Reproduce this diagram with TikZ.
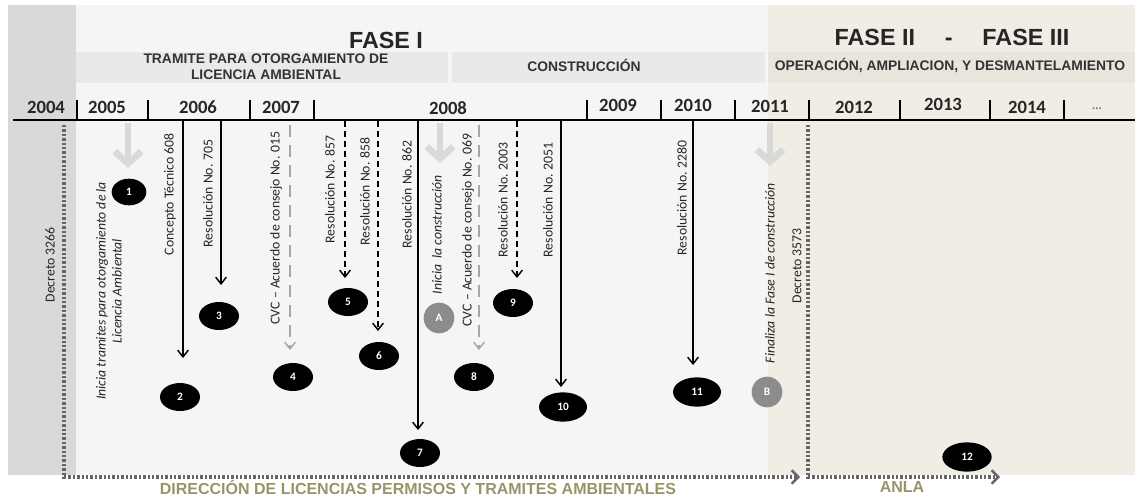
\documentclass[tikz,border=0pt]{standalone}
\usepackage{fontspec}
\setmainfont{Carlito}
\newfontfamily\headfont{Liberation Sans}
\usepackage{xcolor}
\usepackage{tikz}
\usetikzlibrary{arrows.meta,positioning,shapes.geometric}

\definecolor{panelgray}{HTML}{D9D9D9}
\definecolor{panellight}{HTML}{F5F5F5}
\definecolor{panelbeige}{HTML}{F0EDE5}
\definecolor{bandgray}{HTML}{E9E9E9}
\definecolor{bandbeige}{HTML}{E8E5DB}
\definecolor{olive}{HTML}{999368}

\begin{document}
\begin{tikzpicture}[
  x=0.75pt, y=-0.75pt,
  evt/.style={ellipse, fill=black, text=white, font=\bfseries\fontsize{8.5}{8.5}\selectfont,
              minimum width=30pt, minimum height=21pt, inner sep=0pt},
  hito/.style={circle, fill=black!45, text=white, font=\bfseries\fontsize{8.5}{8.5}\selectfont,
               minimum size=23pt, inner sep=0pt},
  lbl/.style={rotate=90, anchor=east, inner sep=0pt, text=black!85,
              font=\fontsize{10.3}{12}\selectfont},
  ilbl/.style={lbl, font=\itshape\fontsize{10.3}{12}\selectfont},
  yr/.style={font=\bfseries\fontsize{14}{14}\selectfont, text=black!85},
  head/.style={font=\headfont\bfseries\fontsize{17.5}{18}\selectfont, text=black!85},
  sub/.style={font=\headfont\bfseries\fontsize{10.4}{12}\selectfont, text=black!80, align=center},
  foot/.style={font=\headfont\bfseries\fontsize{12}{13}\selectfont, text=olive, inner sep=0pt},
  arr/.style={-{Straight Barb[length=5pt,width=8pt]}, line width=1.1pt},
  darr/.style={arr, dash pattern=on 4.5pt off 3pt},
  garr/.style={arr, draw=black!35, dash pattern=on 9pt off 6pt},
  fat/.style={-{Straight Barb[length=9pt,width=20pt]}, line width=5pt, draw=black!15},
  dots/.style={draw=black!60, line width=2.5pt, dash pattern=on 1.8pt off 1.5pt,
               -{Straight Barb[length=5pt,width=10pt,line width=1.8pt]}},
  tickline/.style={line width=2pt}
]
\useasboundingbox (0,0) rectangle (1135,497);

% panels and bands
\fill[panelgray] (8,5) rectangle (76,475);
\fill[panellight] (76,5) rectangle (768,475);
\fill[panelbeige] (768,5) rectangle (1135,475);
\fill[bandgray] (76,52) rectangle (448,83);
\fill[bandgray] (452,52) rectangle (765,83);
\fill[bandbeige] (768,52) rectangle (1135,83);

% headers
\node[head] (f1) at (386,40) {FASE I};
\node[head] (f2) at (952,37) {FASE II \quad - \quad FASE III};
\node[sub] (tram) at (266,67) {TRAMITE PARA OTORGAMIENTO DE\\LICENCIA AMBIENTAL};
\node[sub] (cons) at (584,65) {CONSTRUCCIÓN};
\node[sub] (oper) at (950,65) {OPERACIÓN, AMPLIACION, Y DESMANTELAMIENTO};

% time axis
\draw[line width=2.2pt] (13,120) -- (1135,120);
\draw[tickline] (77,100) -- (77,120);
\draw[tickline] (148,100) -- (148,120);
\draw[tickline] (250,100) -- (250,120);
\draw[tickline] (314,100) -- (314,120);
\draw[tickline] (587,100) -- (587,120);
\draw[tickline] (661,100) -- (661,120);
\draw[tickline] (735,100) -- (735,120);
\draw[tickline] (809,100) -- (809,120);
\draw[tickline] (900,100) -- (900,120);
\draw[tickline] (990,100) -- (990,120);
\draw[tickline] (1064,100) -- (1064,120);

\node[yr] (y04) at (46,107) {2004};
\node[yr] (y05) at (107,107) {2005};
\node[yr] (y06) at (198,107) {2006};
\node[yr] (y07) at (281,107) {2007};
\node[yr] (y08) at (448,108) {2008};
\node[yr] (y09) at (618,105) {2009};
\node[yr] (y10) at (693,105) {2010};
\node[yr] (y11) at (770,106) {2011};
\node[yr] (y12) at (854,107) {2012};
\node[yr] (y13) at (943,104) {2013};
\node[yr] (y14) at (1027,107) {2014};
\node[yr, font=\bfseries\fontsize{9}{9}\selectfont, text=black!60] (ydots) at (1097,109) {...};

% events
\node[evt, minimum width=26pt, minimum height=20pt] (ev1) at (129,192) {1};
\node[evt] (ev2) at (180,397) {2};
\node[evt] (ev3) at (219,316) {3};
\node[evt] (ev4) at (293,377) {4};
\node[evt] (ev5) at (348,302) {5};
\node[evt] (ev6) at (379,356) {6};
\node[evt] (ev7) at (420,453) {7};
\node[evt] (ev8) at (474,377) {8};
\node[evt] (ev9) at (513,303) {9};
\node[evt, minimum width=36pt, minimum height=22pt] (ev10) at (563,407) {10};
\node[evt, minimum width=36pt, minimum height=22pt] (ev11) at (697,392) {11};
\node[evt, minimum width=37pt, minimum height=22pt] (ev12) at (967,457) {12};
\node[hito] (hA) at (439,318) {A};
\node[hito] (hB) at (767,392) {B};

\coordinate (s1) at (128,123);  \coordinate (e1) at (128,168);
\coordinate (s2) at (183,121);  \coordinate (e2) at (183,358);
\coordinate (s3) at (221,121);  \coordinate (e3) at (221,285);
\coordinate (s4) at (290,125);  \coordinate (e4) at (290,350);
\coordinate (s5) at (345,121);  \coordinate (e5) at (345,278);
\coordinate (s6) at (378,121);  \coordinate (e6) at (378,331);
\coordinate (s7) at (418,121);  \coordinate (e7) at (418,430);
\coordinate (sA) at (440,123);  \coordinate (eA) at (440,163);
\coordinate (s8) at (479,125);  \coordinate (e8) at (479,350);
\coordinate (s9) at (517,121);  \coordinate (e9) at (517,278);
\coordinate (s10) at (561,121); \coordinate (e10) at (561,387);
\coordinate (s11) at (693,121); \coordinate (e11) at (693,365);
\coordinate (sB) at (770,123);  \coordinate (eB) at (770,166);

\draw[fat] (s1) -- (e1);
\draw[arr] (s2) -- (e2);
\draw[arr] (s3) -- (e3);
\draw[garr] (s4) -- (e4);
\draw[darr] (s5) -- (e5);
\draw[darr] (s6) -- (e6);
\draw[arr] (s7) -- (e7);
\draw[fat] (sA) -- (eA);
\draw[garr] (s8) -- (e8);
\draw[darr] (s9) -- (e9);
\draw[arr] (s10) -- (e10);
\draw[arr] (s11) -- (e11);
\draw[fat] (sB) -- (eB);

% labels
\node[ilbl, anchor=center, align=center] (l1) at (109,291)
  {Inicia tramites para otorgamiento de la\\Licencia Ambiental};
\node[lbl] (l2) at (170,133) {Concepto Técnico 608};
\node[lbl] (l3) at (208,139) {Resolución No. 705};
\node[lbl] (l4) at (276,131) {CVC – Acuerdo de consejo No. 015};
\node[lbl] (l5) at (330,135) {Resolución No. 857};
\node[lbl] (l6) at (365,137) {Resolución No. 858};
\node[lbl] (l7) at (407,140) {Resolución No. 862};
\node[ilbl] (lA) at (437,175) {Inicia \ la construcción};
\node[lbl] (l8) at (468,133) {CVC – Acuerdo de consejo No. 069};
\node[lbl] (l9) at (503,142) {Resolución No. 2003};
\node[lbl] (l10) at (548,142) {Resolución No. 2051};
\node[lbl] (l11) at (682,140) {Resolución No. 2280};
\node[ilbl] (lB) at (770,183) {Finaliza la Fase I de construcción};
\node[lbl] (d3266) at (50,227) {Decreto 3266};
\node[lbl] (d3573) at (797,228) {Decreto 3573};

% authorities
\coordinate (a1) at (64,125);  \coordinate (a1c) at (64,477);  \coordinate (a1e) at (800,477);
\coordinate (a2) at (808,125); \coordinate (a2c) at (808,477); \coordinate (a2e) at (1000,477);
\draw[dots] (a1) -- (a1c) -- (a1e);
\draw[dots] (a2) -- (a2c) -- (a2e);
\node[foot] (dir) at (418,487) {DIRECCIÓN DE LICENCIAS PERMISOS Y TRAMITES AMBIENTALES};
\node[foot] (anla) at (902,487) {ANLA};
\end{tikzpicture}
\end{document}
